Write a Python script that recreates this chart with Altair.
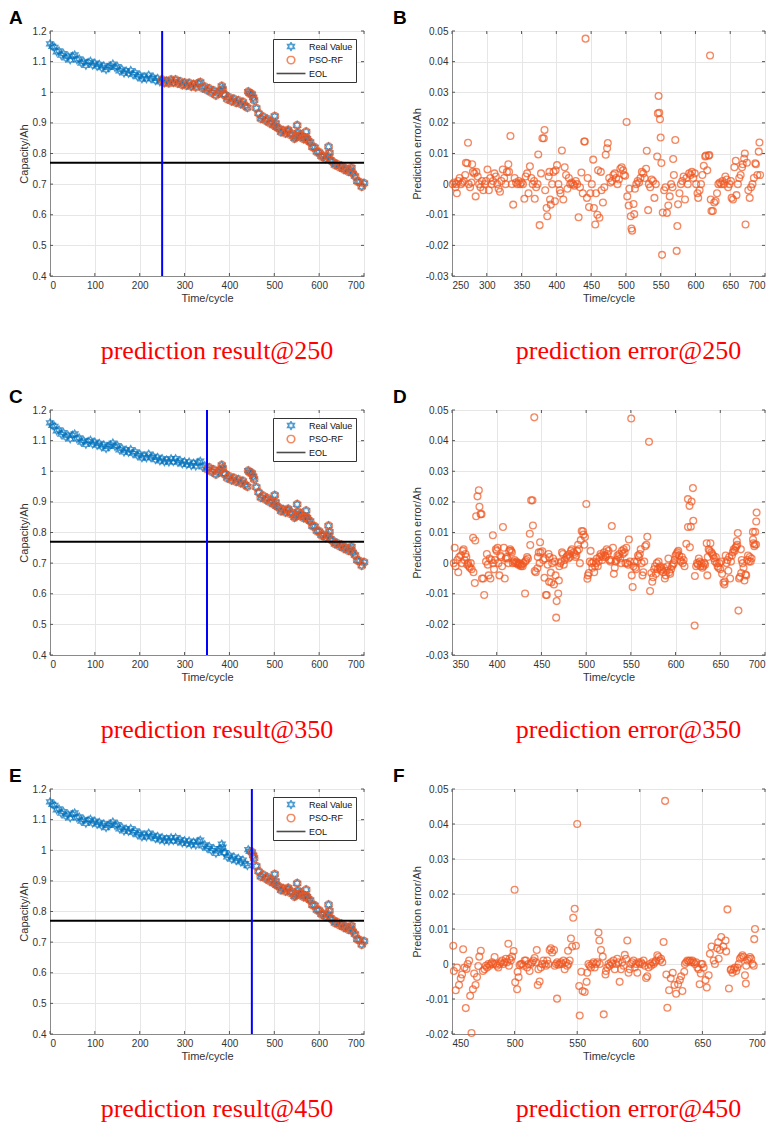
import altair as alt
import pandas as pd

# ---------------- data ----------------
cap_cycles = [0, 5, 10, 15, 20, 25, 30, 35, 40, 45, 50, 55, 60, 65, 70, 75, 80, 85, 90, 95,
              100, 105, 110, 115, 120, 125, 130, 135, 140, 145, 150, 155, 160, 165, 170, 175,
              180, 185, 190, 195, 200, 205, 210, 215, 220, 225, 230, 235, 240, 245, 250, 255,
              260, 265, 270, 275, 280, 285, 290, 295, 300, 305, 310, 315, 320, 325, 330, 335,
              340, 345, 350, 355, 360, 365, 370, 375, 380, 383, 385, 388, 390, 395, 400, 405,
              410, 415, 420, 425, 430, 435, 440, 442, 445, 450, 453, 455, 460, 465, 470, 475,
              480, 485, 490, 495, 500, 501, 503, 505, 510, 515, 520, 525, 530, 531, 535, 540,
              545, 548, 550, 551, 553, 555, 560, 565, 570, 571, 573, 575, 580, 585, 590, 595,
              600, 605, 610, 615, 620, 621, 623, 625, 630, 635, 640, 645, 650, 655, 660, 665,
              670, 672, 675, 680, 685, 690, 695, 700]
cap_values = [1.158, 1.150, 1.147, 1.132, 1.135, 1.121, 1.126, 1.112, 1.117, 1.106, 1.118, 1.122,
              1.106, 1.109, 1.095, 1.100, 1.088, 1.097, 1.101, 1.089, 1.095, 1.085, 1.091, 1.080,
              1.086, 1.074, 1.081, 1.086, 1.092, 1.081, 1.084, 1.070, 1.075, 1.063, 1.069, 1.062,
              1.071, 1.058, 1.063, 1.051, 1.056, 1.044, 1.050, 1.044, 1.056, 1.045, 1.049, 1.038,
              1.045, 1.034, 1.041, 1.031, 1.037, 1.030, 1.041, 1.032, 1.041, 1.029, 1.035, 1.024,
              1.031, 1.022, 1.030, 1.019, 1.026, 1.017, 1.029, 1.033, 1.014, 1.018, 1.007, 1.012,
              0.999, 1.005, 0.990, 0.998, 1.005, 1.020, 1.010, 0.992, 0.992, 0.978, 0.983, 0.971,
              0.978, 0.966, 0.973, 0.962, 0.968, 0.956, 0.950, 1.002, 0.996, 0.994, 0.983, 0.974,
              0.948, 0.931, 0.914, 0.920, 0.908, 0.912, 0.899, 0.902, 0.891, 0.922, 0.899, 0.886,
              0.882, 0.870, 0.875, 0.866, 0.873, 0.877, 0.862, 0.864, 0.849, 0.853, 0.856, 0.892,
              0.868, 0.858, 0.859, 0.848, 0.851, 0.871, 0.849, 0.842, 0.837, 0.821, 0.820, 0.805,
              0.804, 0.791, 0.792, 0.783, 0.790, 0.822, 0.802, 0.779, 0.773, 0.763, 0.765, 0.756,
              0.759, 0.748, 0.750, 0.741, 0.745, 0.754, 0.735, 0.726, 0.709, 0.707, 0.692, 0.703]

err250 = [(251,0.0),(253,0.0005),(255,-0.001),(256,0.0),(257,-0.003),(259,0.001),(261,0.002),(263,0.0),
          (265,0.0005),(267,0.001),(269,0.003),(270,0.007),(272,0.0068),(273,0.0135),(274,0.0),(276,-0.001),
          (278,0.0005),(279,0.0065),(280,0.004),(282,0.0035),(284,-0.004),(285,0.004),(287,0.0025),(289,0.0),
          (291,-0.001),(293,0.001),(295,-0.002),(297,0.0),(299,0.001),(301,0.0048),(303,-0.002),(305,0.002),
          (307,0.0),(309,0.001),(311,0.0035),(313,0.0025),(315,0.0),(317,-0.0015),(319,-0.0025),(321,0.001),
          (323,0.0048),(325,0.002),(327,0.0),(329,0.004),(331,0.0065),(332,0.004),(334,0.0157),(336,0.0),
          (338,-0.0067),(340,0.002),(342,0.0005),(344,0.0),(346,0.001),(348,0.0),(350,0.0005),(352,0.0),
          (354,-0.0048),(356,0.0025),(358,0.0035),(360,-0.003),(362,0.0058),(364,0.002),(366,0.0),(368,0.001),
          (369,-0.0048),(371,-0.001),(373,0.0),(374,0.0097),(376,-0.0134),(378,0.0035),(380,0.015),(382,0.015),
          (383,0.0177),(384,-0.002),(386,-0.0078),(387,-0.0105),(389,0.0025),(390,0.004),(391,-0.005),
          (392,-0.0067),(394,0.0),(396,0.004),(398,-0.0056),(399,0.0045),(401,0.0062),(403,0.0),(405,-0.002),
          (406,-0.003),(408,0.011),(410,-0.005),(412,0.0055),(414,0.003),(416,-0.0015),(418,0.002),(420,0.0),
          (422,0.0005),(424,0.0),(426,-0.0005),(428,0.001),(430,0.0),(432,-0.0108),(434,-0.001),(436,0.0038),
          (438,-0.003),(440,0.0139),(441,0.0139),(442,0.0475),(444,-0.0045),(445,0.002),(447,-0.0075),
          (449,-0.003),(451,0.0),(453,0.008),(454,-0.0078),(456,-0.0132),(457,-0.003),(459,-0.01),(460,0.0045),
          (462,-0.011),(464,0.004),(465,-0.002),(467,-0.006),(469,-0.001),(471,0.0096),(473,0.0117),
          (474,0.0134),(476,0.002),(478,0.0005),(480,0.001),(482,0.003),(484,0.0035),(486,0.002),(488,0.0),
          (490,0.0015),(492,0.005),(494,0.0055),(496,0.0045),(497,0.003),(499,0.0027),(501,0.0203),
          (502,-0.004),(504,-0.007),(505,-0.0015),(507,-0.0105),(508,-0.0145),(509,-0.0152),(511,-0.0065),
          (512,-0.0098),(513,-0.0015),(515,0.0),(517,0.001),(519,0.0005),(521,0.002),(523,0.004),(525,0.0035),
          (527,0.002),(529,0.005),(530,0.0109),(532,-0.0085),(533,0.0),(535,-0.001),(537,0.0015),(539,0.001),
          (541,-0.0045),(543,0.0),(545,0.009),(546,0.0231),(547,0.0288),(548,0.0233),(549,0.0212),
          (550,0.0152),(551,0.0069),(552,-0.0231),(553,-0.0093),(555,-0.002),(557,-0.001),(559,-0.0094),
          (561,-0.007),(563,-0.004),(565,0.0),(567,-0.001),(568,0.0082),(569,0.003),(571,0.0144),
          (573,-0.0218),(574,-0.0137),(575,-0.0066),(577,-0.003),(579,0.0),(581,0.001),(583,0.0025),
          (585,-0.005),(587,0.002),(589,0.0),(591,0.0035),(593,0.003),(595,0.004),(597,0.002),(599,0.0035),
          (601,0.0),(603,-0.003),(604,-0.0045),(606,-0.002),(608,0.0),(610,0.003),(612,0.006),(614,0.009),
          (615,0.0093),(617,0.0045),(619,0.0093),(620,0.0095),(621,0.042),(622,-0.005),(623,-0.0088),
          (625,-0.0088),(627,-0.006),(629,-0.0055),(631,-0.003),(633,0.0),(635,0.0005),(637,0.0),(639,0.001),
          (641,0.0),(643,0.0025),(645,0.0015),(647,-0.001),(649,0.0),(651,0.001),(652,-0.0045),(654,-0.005),
          (656,0.0055),(658,0.0076),(659,-0.0036),(661,0.0),(663,0.002),(665,0.003),(667,0.0055),
          (668,0.0065),(670,0.0083),(671,0.01),(672,-0.0132),(674,0.007),(676,-0.002),(678,-0.0045),
          (680,-0.001),(682,0.0),(684,0.002),(686,0.0068),(687,0.0065),(689,0.003),(691,0.0106),
          (692,0.0136),(693,0.003)]

err350 = [(352,0.0),(353,0.005),(354,-0.001),(356,0.001),(357,-0.003),(358,0.002),(360,0.0025),(361,0.0),
          (362,0.004),(363,0.0045),(364,0.001),(365,0.003),(366,0.002),(367,-0.0005),(368,0.0),(369,-0.001),
          (370,-0.0015),(371,0.0),(372,-0.002),(373.6,0.0083),(374,-0.003),(375.5,-0.0065),(376,0.0074),
          (377,0.0153),(378.5,0.0218),(380,0.0238),(380.7,0.0184),(382,0.016),(383,0.016),(383.5,-0.005),
          (385,-0.005),(386,-0.0104),(388,0.0005),(389,0.003),(390,-0.0005),(391,-0.004),(392,0.0015),
          (393,-0.005),(394,0.001),(395.7,0.0091),(396,0.0),(397,-0.002),(398,0.001),(399,0.0045),(400,0.004),
          (401,0.005),(402,0.0),(403,-0.004),(404,0.0025),(405,0.002),(406,-0.001),(407,0.0118),(408,0.005),
          (409,-0.005),(410,0.0015),(411,0.002),(412,0.0015),(413,0.0),(414,0.004),(415,0.0045),(416,0.004),
          (417,0.0035),(418,0.0),(419,0.0005),(420,0.001),(421,0.0),(422,0.0005),(423,0.0),(424,-0.0005),
          (425,0.0),(426,-0.0005),(427,-0.001),(428,-0.0005),(429,-0.001),(430,0.0),(431.7,-0.0099),
          (432,0.0005),(433,0.001),(434,0.002),(435,0.0015),(437,0.0096),(437.5,0.0059),(438.5,0.0205),
          (440,0.0205),(440.5,0.0123),(442,0.0476),(442.5,-0.0026),(443.7,-0.003),(445.5,-0.0017),(446,0.002),
          (447,0.0035),(448,0.0),(448.5,0.0068),(449,0.0035),(451,0.0039),(452,0.001),(453.4,-0.0048),
          (454,0.0015),(455,-0.0104),(456,-0.0104),(457,-0.0005),(458,0.003),(458.6,-0.0061),(459,0.002),
          (460.5,-0.0031),(461,-0.0063),(462,0.0),(463,0.0015),(464,-0.007),(465,0.0005),(465.8,-0.004),
          (466.5,-0.0178),(467,-0.0124),(468.8,-0.0099),(469.5,-0.0057),(470,-0.001),(471,0.0),(472,0.0005),
          (473,0.0035),(474,0.003),(475,-0.0005),(476,0.001),(478,0.002),(479,0.0025),(480,0.0015),(481,0.003),
          (482,0.002),(483,0.004),(484,0.0045),(486,0.0035),(487,0.003),(488,0.002),(489,0.0025),(490,0.004),
          (491,0.006),(492,0.0045),(493,0.0),(494,0.0075),(495,0.0105),(496.5,0.0104),(497,0.0093),(498,0.006),
          (498.7,0.0085),(500.2,0.0193),(501.4,-0.0051),(502,-0.004),(503,-0.0032),(504,0.0005),(505,0.004),
          (506,0.0),(507,-0.0015),(508,0.0005),(509,-0.003),(510,-0.001),(511,0.0),(512,0.0015),(513,-0.001),
          (514,0.0005),(515,0.002),(516,0.003),(517,0.0025),(518,0.001),(519,0.002),(520,0.0035),(521,0.0025),
          (522,0.002),(523,0.0045),(524,0.003),(525,0.004),(526,0.001),(527,0.0005),(528,0.001),(528.7,0.0121),
          (530,0.005),(531,-0.0035),(532,-0.0015),(533,0.0005),(534,0.001),(535,0.0025),(536,0.002),(537,0.003),
          (538,0.0015),(539,0.0),(540,0.004),(541,0.003),(542,0.0045),(543,0.0035),(544,0.0),(545,0.005),
          (546,0.0),(547,-0.0005),(547.8,0.0077),(549,0.0005),(550.4,0.0472),(551,-0.004),(552,-0.0078),
          (553,-0.001),(554,0.0005),(555,-0.0015),(556,-0.002),(557,0.0005),(558,0.0025),(559,0.002),(560,0.003),
          (561,0.0045),(562,0.0),(563,-0.004),(564,-0.003),(565,0.0005),(566,0.0055),(567.3,0.006),
          (568.4,0.0086),(570.3,0.0396),(571.5,-0.0091),(573,-0.0032),(574,-0.0061),(574.8,-0.0046),
          (576,-0.002),(577,-0.001),(578,-0.0035),(579,0.0),(580,-0.002),(581,0.0005),(582,-0.0015),(583,-0.001),
          (584,-0.0025),(585,-0.002),(586,-0.003),(587,-0.0015),(588,-0.005),(589,-0.004),(590,-0.0025),
          (591,-0.001),(592,0.0015),(593,-0.003),(594,-0.0035),(595,-0.002),(596,-0.001),(597,-0.0005),(598,0.0),
          (599,0.001),(600,0.0025),(601,0.003),(602,0.0035),(603,0.004),(604,0.0025),(605,0.001),(606,0.0005),
          (607,0.002),(608,0.0),(609,0.001),(610,-0.001),(612,0.0063),(613.8,0.0209),(613.9,0.0118),
          (615.6,0.0187),(616,0.0052),(617,0.0119),(617.9,0.0201),(619.4,0.0245),(619.8,0.0138),
          (621.3,-0.0204),(621.6,-0.0042),(623,-0.001),(624,0.0),(625,-0.0005),(626,0.0015),(627,0.0005),
          (628,-0.001),(629,0.0),(630,-0.0015),(631,-0.001),(632,0.0),(633,-0.0005),(634.8,0.0065),
          (635.5,-0.004),(636,0.002),(637,0.0045),(638,0.004),(639,0.0065),(640,0.0035),(641,0.003),
          (642,0.0025),(643,0.0015),(644,0.0005),(645,0.002),(646,0.0),(647,-0.001),(648,-0.0015),(649,0.0),
          (650,-0.002),(651,0.0005),(652,-0.0035),(653.5,-0.0064),(654.6,-0.007),(655,-0.006),(656,0.0025),
          (657,0.0),(658,0.001),(659,-0.0025),(660,0.002),(661,-0.005),(662,0.0005),(663,0.0025),(664,0.0035),
          (665,0.0045),(666,0.004),(667,0.005),(668,0.0055),(668.5,0.0072),(669,0.006),(669.6,0.0098),
          (670.3,-0.0155),(671,-0.005),(672,-0.0045),(673,0.0045),(673.4,-0.0032),(674,0.001),(675,0.0),
          (676,-0.0015),(677,-0.0057),(678.2,-0.0037),(679,-0.004),(680,0.001),(681,0.0025),(682,0.0005),
          (683,0.002),(684,0.0005),(685,0.0015),(686.5,0.0102),(686.6,0.0077),(687,0.0065),(688,0.0055),
          (688.5,0.0061),(689,0.0102),(690,0.0061),(690.2,0.0136),(690.6,0.0165)]

err450 = [(451,0.0052),(451.5,-0.002),(453,-0.0075),(454,-0.001),(455.6,-0.006),(457,-0.0041),(458,-0.003),
          (458.9,0.0042),(460,-0.001),(461,-0.0126),(461.6,-0.0014),(462.5,0.0),(463.7,0.001),(464.5,-0.0091),
          (465.6,-0.0197),(466.7,-0.0072),(467.7,-0.0027),(468.8,-0.006),(470,-0.0037),(471,-0.0006),
          (471.8,0.0021),(473,0.0038),(474.7,-0.002),(476,-0.0015),(477,-0.0005),(478,-0.001),(479,0.0),
          (480,-0.0005),(481,0.0),(482,0.0005),(483,0.0),(484,0.002),(485,0.0),(486,-0.0005),(487,-0.001),
          (488,0.0),(489,0.0005),(490,0.001),(491,0.0),(492,0.0005),(493,0.0015),(494,0.0005),(495,0.0058),
          (495.5,-0.0005),(496,0.0015),(497,0.001),(498,0.0021),(499.2,0.0037),(500,0.0212),(500.5,-0.0052),
          (502,-0.0072),(502.4,-0.0022),(503.2,-0.0038),(504,-0.0003),(505,0.0),(506,0.0),(507,-0.0005),
          (508,0.001),(509,0.001),(510,-0.001),(511,0.0),(512,-0.002),(513,0.0),(514,0.0005),(515,0.001),
          (516,0.0017),(517,0.0005),(517.7,0.004),(518.5,-0.006),(519,-0.0015),(520,-0.005),(521,-0.001),
          (522,0.0),(523,0.001),(524,0.0),(525,-0.0005),(526,0.001),(527,0.0),(528,0.004),(529,0.0045),
          (530,0.0033),(531.5,0.004),(532,-0.0005),(533,0.0),(533.9,-0.0099),(534,0.0005),(535,-0.0002),
          (536,0.0),(537,0.0005),(538,0.0),(539,0.001),(540,-0.0015),(541,0.0005),(542,-0.0005),(542.7,0.0038),
          (543,0.0),(544,0.001),(545,0.0073),(546,0.005),(546.8,0.0132),(548,0.0158),(549,0.0052),(550,0.040),
          (551.6,-0.0063),(552,-0.0147),(553.3,-0.0022),(554.3,-0.0077),(556,-0.008),(557.5,-0.0051),
          (558,-0.0025),(559,0.0),(560,-0.0005),(561,-0.001),(562,0.0),(563,0.0005),(564,-0.001),(565,0.0),
          (566,0.0005),(567,0.009),(567.7,0.0067),(568,0.0),(569,0.004),(570.4,0.0021),(571.2,-0.0144),
          (572.6,-0.003),(573,-0.002),(574,-0.001),(575,0.0),(576,-0.0005),(577,0.0005),(578,0.0),(579,0.001),
          (580,-0.0015),(581,0.0),(582,0.0015),(583,0.0005),(583.9,-0.0051),(585,-0.0015),(586,0.0005),
          (587,-0.0005),(588,0.0026),(589,0.0015),(590,0.0067),(591,-0.0025),(592,-0.0015),(593,0.0),
          (594,0.0005),(595,0.001),(596,-0.001),(597,0.0),(598,-0.0025),(599,0.0005),(600,0.0),(601,0.0005),
          (602,0.0),(603,0.001),(604,-0.0005),(605,-0.004),(606,-0.0035),(607,-0.001),(608,0.0),(609,-0.0005),
          (610,0.0005),(611,0.0),(612,0.0005),(613,0.001),(614,0.0025),(615,0.002),(616,0.001),(617,0.0015),
          (618,0.0005),(619,0.0063),(620.2,0.0466),(621.2,-0.003),(622,-0.0125),(623.4,-0.0075),
          (624.7,-0.0041),(626.3,-0.0025),(627.7,-0.006),(629,-0.0085),(630.6,-0.0058),(632,-0.0046),
          (633,-0.0035),(634,-0.0077),(635.5,-0.0022),(636,0.0),(637,0.0005),(638,0.001),(639,0.0008),
          (640,0.001),(641,0.0005),(642,0.001),(643,0.0005),(644,0.0),(645,0.0005),(646,-0.001),(647,-0.0015),
          (647.8,-0.0058),(648.7,-0.0027),(649,0.0),(650,0.0),(651,-0.001),(652.5,-0.0046),(653.5,-0.0067),
          (655,-0.0032),(656,0.0029),(657.3,0.005),(659,0.001),(660,0.0),(661.8,0.0045),(662.6,0.0062),
          (663,0.0015),(664,0.004),(665,0.0077),(666.7,0.005),(668.5,0.0067),(669,0.0036),(670,0.0156),
          (671.2,-0.007),(672.6,-0.0017),(673,-0.0015),(674,-0.0025),(675,-0.0015),(676,-0.001),(677,-0.002),
          (678,-0.001),(679,0.0),(680,0.0015),(681,0.002),(682,0.0025),(683,0.002),(684,-0.0032),
          (684.7,-0.0056),(685,-0.0005),(686,0.001),(687,0.0015),(688,0.002),(689,0.0015),(690,0.0),
          (691,-0.0005),(691.4,0.0071),(692,0.01)]

start_cycles = [250, 350, 450]
left_letters = ["A", "C", "E"]
right_letters = ["B", "D", "F"]
left_captions = ["prediction result@250", "prediction result@350", "prediction result@450"]
right_captions = ["prediction error@250", "prediction error@350", "prediction error@450"]
error_sets = [err250, err350, err450]
error_y_min = [-0.03, -0.03, -0.02]
eol_value = 0.77
series_names = ["Real Value", "PSO-RF", "EOL"]
left_x_ticks = [0, 100, 200, 300, 400, 500, 600, 700]
left_y_ticks = [0.4, 0.5, 0.6, 0.7, 0.8, 0.9, 1.0, 1.1, 1.2]
err_y_ticks_all = [-0.03, -0.02, -0.01, 0.0, 0.01, 0.02, 0.03, 0.04, 0.05]

# ---------------- styling ----------------
BLUE = "#0072BD"
ORANGE = "#F0561F"
TICKC = "#555555"
HEX = ("M0,-1L-0.289,-0.5L-0.866,-0.5L-0.577,0L-0.866,0.5L-0.289,0.5L0,1"
       "L0.289,0.5L0.866,0.5L0.577,0L0.866,-0.5L0.289,-0.5Z")
CIRC = "M1,0A1,1 0 1,1 -1,0A1,1 0 1,1 1,0Z"
LINE = "M-3.8,0L3.8,0"
AXFONT = "Liberation Sans"
LW, RW, H = 314, 313, 245
MSIZE = 58
TL = 3  # inward tick length in px

cap_df = pd.DataFrame({"cycle": cap_cycles, "cap": cap_values})

color_scale = alt.Scale(domain=series_names, range=[BLUE, ORANGE, "#000000"])
shape_scale = alt.Scale(domain=series_names, range=[HEX, CIRC, LINE])
legend = alt.Legend(title=None, orient="top-right", offset=8, padding=3,
                    strokeColor="#333333", fillColor="white", labelFont=AXFONT,
                    labelFontSize=9, labelColor="#111111", symbolSize=MSIZE,
                    symbolStrokeWidth=1.6, rowPadding=3.5, symbolOffset=10, labelOffset=13,
                    clipHeight=9)

minus_fix = "replace(format(datum.value, '{}'), '\u2212', '-')"


def inward_ticks(xvals, yvals, xs, ys, xax, yax, w):
    xdf = pd.DataFrame({"t": xvals})
    ydf = pd.DataFrame({"t": yvals})
    xenc = alt.X("t:Q", scale=xs, axis=xax)
    yenc = alt.Y("t:Q", scale=ys, axis=yax)
    return [
        alt.Chart(xdf).mark_rule(color=TICKC, strokeWidth=1).encode(
            x=xenc, y=alt.value(H), y2=alt.value(H - TL)),
        alt.Chart(xdf).mark_rule(color=TICKC, strokeWidth=1).encode(
            x=xenc, y=alt.value(0), y2=alt.value(TL)),
        alt.Chart(ydf).mark_rule(color=TICKC, strokeWidth=1).encode(
            y=yenc, x=alt.value(0), x2=alt.value(TL)),
        alt.Chart(ydf).mark_rule(color=TICKC, strokeWidth=1).encode(
            y=yenc, x=alt.value(w), x2=alt.value(w - TL)),
    ]


def left_panel(i):
    s = start_cycles[i]
    xs = alt.Scale(domain=[0, 700], nice=False, zero=False)
    ys = alt.Scale(domain=[0.4, 1.2], nice=False, zero=False)
    xax = alt.Axis(values=left_x_ticks, format="d", title="Time/cycle")
    yax = alt.Axis(values=left_y_ticks, labelExpr=minus_fix.format(".1~f"), title="Capacity/Ah")
    real_df = cap_df.assign(series="Real Value")
    pred_df = cap_df[cap_df["cycle"] >= s].assign(series="PSO-RF")
    enc = dict(
        x=alt.X("cycle:Q", scale=xs, axis=xax),
        y=alt.Y("cap:Q", scale=ys, axis=yax),
        color=alt.Color("series:N", scale=color_scale, legend=legend),
        shape=alt.Shape("series:N", scale=shape_scale, legend=legend),
    )
    real = alt.Chart(real_df).mark_point(filled=False, size=MSIZE, strokeWidth=1.4).encode(**enc)
    pred = alt.Chart(pred_df).mark_point(filled=False, size=MSIZE, strokeWidth=1.4).encode(**enc)
    eol = alt.Chart(pd.DataFrame({"v": [eol_value], "series": ["EOL"]})).mark_rule(strokeWidth=2).encode(
        y=alt.Y("v:Q", scale=ys, axis=yax),
        color=alt.Color("series:N", scale=color_scale, legend=legend),
    )
    vline = alt.Chart(pd.DataFrame({"c": [s]})).mark_rule(color="#0000FF", strokeWidth=2).encode(
        x=alt.X("c:Q", scale=xs, axis=xax)
    )
    letter = alt.Chart(pd.DataFrame({"t": [left_letters[i]]})).mark_text(
        font=AXFONT, fontSize=19, fontWeight="bold", align="left", baseline="alphabetic", color="black"
    ).encode(x=alt.value(-41), y=alt.value(-7), text="t:N")
    ticks = inward_ticks(left_x_ticks, left_y_ticks, xs, ys, xax, yax, LW)
    return alt.layer(*ticks, real, pred, eol, vline, letter).properties(
        width=LW, height=H,
        title=alt.TitleParams(text=left_captions[i], orient="bottom", anchor="middle", frame="group",
                              font="Liberation Serif", fontSize=26, fontWeight="normal",
                              color="#FF0000", offset=35, dx=10),
    )


def right_panel(i):
    s = start_cycles[i]
    ymin = error_y_min[i]
    df = pd.DataFrame(error_sets[i], columns=["cycle", "err"])
    xs = alt.Scale(domain=[s, 700], nice=False, zero=False)
    ys = alt.Scale(domain=[ymin, 0.05], nice=False, zero=False)
    xt = list(range(s, 701, 50))
    yt = [v for v in err_y_ticks_all if v >= ymin - 1e-9]
    xax = alt.Axis(values=xt, format="d", title="Time/cycle")
    yax = alt.Axis(values=yt, labelExpr=minus_fix.format(".2~f"), title="Prediction error/Ah")
    pts = alt.Chart(df).mark_point(shape="circle", size=46, filled=False, color=ORANGE,
                                   strokeWidth=1.3).encode(
        x=alt.X("cycle:Q", scale=xs, axis=xax),
        y=alt.Y("err:Q", scale=ys, axis=yax),
    )
    letter = alt.Chart(pd.DataFrame({"t": [right_letters[i]]})).mark_text(
        font=AXFONT, fontSize=19, fontWeight="bold", align="left", baseline="alphabetic", color="black"
    ).encode(x=alt.value(-59), y=alt.value(-7), text="t:N")
    ticks = inward_ticks(xt, yt, xs, ys, xax, yax, RW)
    return alt.layer(*ticks, pts, letter).properties(
        width=RW, height=H,
        title=alt.TitleParams(text=right_captions[i], orient="bottom", anchor="middle", frame="group",
                              font="Liberation Serif", fontSize=26, fontWeight="normal",
                              color="#FF0000", offset=35, dx=20),
    )


rows = [
    alt.hconcat(left_panel(i), right_panel(i), spacing=20)
    .resolve_scale(color="independent", shape="independent")
    .resolve_legend(color="independent", shape="independent")
    for i in range(3)
]

chart = alt.vconcat(*rows, spacing=22, padding=0).resolve_scale(
    color="independent", shape="independent"
).resolve_legend(
    color="independent", shape="independent"
).configure_view(
    stroke="#8a8a8a", strokeWidth=1
).configure_axis(
    domainColor="#8a8a8a", domainWidth=1, gridColor="#e6e6e6", gridWidth=1,
    tickSize=0, labelFont=AXFONT, labelFontSize=10, labelColor="#333333", labelPadding=4,
    titleFont=AXFONT, titleFontSize=11, titleFontWeight="normal", titleColor="#333333",
).configure_axisX(titlePadding=2).configure_axisY(titlePadding=3)

chart.save("out.html", embed_options={"renderer": "svg", "actions": False})
